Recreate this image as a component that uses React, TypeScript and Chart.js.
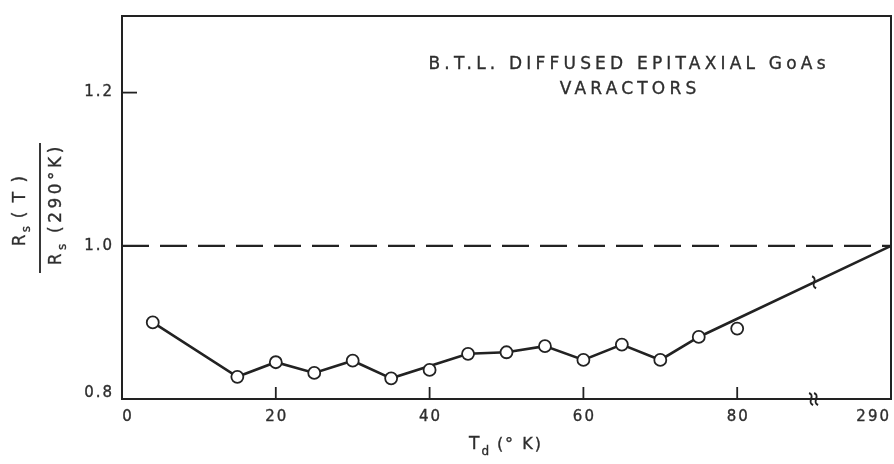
import React, { useEffect, useRef } from "react";
import { Chart, registerables } from "chart.js";

Chart.register(...registerables);

// Measured points (circles)
const temps = [4, 15, 20, 25, 30, 35, 40, 45, 50, 55, 60, 65, 70, 75, 80];
const ratios = [0.9, 0.829, 0.848, 0.834, 0.85, 0.827, 0.838, 0.859, 0.861, 0.869, 0.851, 0.871, 0.851, 0.881, 0.892];

// Drawn curve (skips the 40 and 80 points, ends at 290 K on the broken axis)
const curveTemps = [4, 15, 20, 25, 30, 35, 45, 50, 55, 60, 65, 70, 75, 100];
const curveRatios = [0.9, 0.829, 0.848, 0.834, 0.85, 0.827, 0.859, 0.861, 0.869, 0.851, 0.871, 0.851, 0.881, 1.0];

// Axis ticks
const xTickValues = [0, 20, 40, 60, 80, 100];
const xTickLabels = ["0", "20", "40", "60", "80", "290"];
const yTickValues = [0.8, 1.0, 1.2];
const yTickLabels = ["0.8", "1.0", "1.2"];
const xInnerTicks = [20, 40, 60, 80];
const yInnerTicks = [1.2];
const referenceLevel = 1.0;
const breakAt = 90;

const annotationLines = ["B.T.L. DIFFUSED EPITAXIAL GoAs", "VARACTORS"];

const INK = "#222222";
const TEXT = "#2e2e2e";
const FONT = "DejaVu Sans";

type Part = { t: string; size: number; dy: number };

function partsWidth(ctx: CanvasRenderingContext2D, parts: Part[], spacing: number) {
  let w = 0;
  for (const p of parts) {
    ctx.font = `${p.size}px "${FONT}"`;
    (ctx as any).letterSpacing = `${spacing}px`;
    w += ctx.measureText(p.t).width;
  }
  return w - spacing;
}

function heavyText(ctx: CanvasRenderingContext2D, t: string, x: number, y: number) {
  ctx.fillText(t, x, y);
  ctx.strokeText(t, x, y);
}

function drawParts(ctx: CanvasRenderingContext2D, parts: Part[], cx: number, cy: number, spacing: number) {
  const w = partsWidth(ctx, parts, spacing);
  let x = cx - w / 2;
  ctx.textAlign = "left";
  ctx.textBaseline = "middle";
  for (const p of parts) {
    ctx.font = `${p.size}px "${FONT}"`;
    (ctx as any).letterSpacing = `${spacing}px`;
    heavyText(ctx, p.t, x, cy + p.dy);
    x += ctx.measureText(p.t).width;
  }
}

const decorPlugin = {
  id: "decor",
  beforeDatasetsDraw(chart: any) {
    const ctx: CanvasRenderingContext2D = chart.ctx;
    const xs = chart.scales.x;
    const ys = chart.scales.y;
    const a = chart.chartArea;
    ctx.save();
    ctx.strokeStyle = INK;
    ctx.lineWidth = 2;
    ctx.setLineDash([]);
    ctx.strokeRect(a.left, a.top, a.right - a.left, a.bottom - a.top);

    // inward ticks
    ctx.lineWidth = 1.8;
    for (const v of xInnerTicks) {
      const px = xs.getPixelForValue(v);
      ctx.beginPath();
      ctx.moveTo(px, a.bottom);
      ctx.lineTo(px, a.bottom - 12);
      ctx.stroke();
    }
    for (const v of yInnerTicks) {
      const py = ys.getPixelForValue(v);
      ctx.beginPath();
      ctx.moveTo(a.left, py);
      ctx.lineTo(a.left + 15, py);
      ctx.stroke();
    }

    // dashed reference line
    const ry = ys.getPixelForValue(referenceLevel);
    ctx.lineWidth = 2.2;
    ctx.setLineDash([27, 11]);
    ctx.beginPath();
    ctx.moveTo(a.left, ry);
    ctx.lineTo(a.right, ry);
    ctx.stroke();
    ctx.setLineDash([]);

    // tick labels
    ctx.fillStyle = TEXT;
    ctx.strokeStyle = TEXT;
    ctx.lineWidth = 0.35;
    ctx.font = `15px "${FONT}"`;
    (ctx as any).letterSpacing = "2px";
    ctx.textBaseline = "middle";
    ctx.textAlign = "right";
    yTickValues.forEach((v, i) => {
      let py = ys.getPixelForValue(v);
      if (i === 0) py -= 6;
      heavyText(ctx, yTickLabels[i], a.left - 8, py);
    });
    xTickValues.forEach((v, i) => {
      const px = xs.getPixelForValue(v);
      const lbl = xTickLabels[i];
      if (i === xTickValues.length - 1) {
        ctx.textAlign = "right";
        heavyText(ctx, lbl, px, a.bottom + 18);
      } else {
        ctx.textAlign = "center";
        heavyText(ctx, lbl, px + (i === 0 ? 6 : 1), a.bottom + 18);
      }
    });

    // annotation
    ctx.textAlign = "left";
    ctx.font = `17px "${FONT}"`;
    (ctx as any).letterSpacing = "0px";
    const target = 397;
    const raw = ctx.measureText(annotationLines[0]).width;
    const sp = (target - raw) / (annotationLines[0].length - 1);
    drawParts(ctx, [{ t: annotationLines[0], size: 17, dy: 0 }], 627, 65, sp);
    drawParts(ctx, [{ t: annotationLines[1], size: 17, dy: 0 }], 628, 90, sp);

    // x title
    drawParts(
      ctx,
      [
        { t: "T", size: 17, dy: 0 },
        { t: "d ", size: 12, dy: 7 },
        { t: "(° K)", size: 16, dy: 0 },
      ],
      505,
      445,
      2
    );

    // y title (fraction, rotated)
    ctx.save();
    ctx.rotate(-Math.PI / 2);
    drawParts(
      ctx,
      [
        { t: "R", size: 17, dy: 0 },
        { t: "s ", size: 12, dy: 6 },
        { t: "( T )", size: 17, dy: 0 },
      ],
      -211,
      21,
      2
    );
    drawParts(
      ctx,
      [
        { t: "R", size: 17, dy: 0 },
        { t: "s ", size: 12, dy: 6 },
        { t: "(290°K)", size: 17, dy: 0 },
      ],
      -206,
      57,
      3.5
    );
    ctx.restore();
    ctx.strokeStyle = INK;
    ctx.lineWidth = 1.8;
    ctx.beginPath();
    ctx.moveTo(40, 143);
    ctx.lineTo(40, 273);
    ctx.stroke();

    ctx.restore();
  },
  afterDatasetsDraw(chart: any) {
    const ctx: CanvasRenderingContext2D = chart.ctx;
    const xs = chart.scales.x;
    const ys = chart.scales.y;
    const a = chart.chartArea;
    ctx.save();
    ctx.strokeStyle = INK;
    ctx.lineWidth = 2;
    const n = curveTemps.length;
    const x0 = curveTemps[n - 2], y0 = curveRatios[n - 2];
    const x1 = curveTemps[n - 1], y1 = curveRatios[n - 1];
    const yb = y0 + ((y1 - y0) * (breakAt - x0)) / (x1 - x0);
    const bx = xs.getPixelForValue(breakAt);
    const by = ys.getPixelForValue(yb);
    const squiggle = (cx: number, cy: number, h: number) => {
      ctx.beginPath();
      ctx.moveTo(cx - 2, cy - h);
      ctx.bezierCurveTo(cx + 5, cy - h / 2, cx - 5, cy + h / 2, cx + 2, cy + h);
      ctx.stroke();
    };
    squiggle(bx, by, 6);
    squiggle(bx - 3, a.bottom, 6);
    squiggle(bx + 2, a.bottom, 6);
    ctx.restore();
  },
};

export default function App() {
  const ref = useRef<HTMLCanvasElement | null>(null);
  useEffect(() => {
    document.body.style.margin = "0";
    const canvas = ref.current!;
    const chart = new Chart(canvas, {
      type: "scatter",
      data: {
        datasets: [
          {
            label: "measured",
            data: temps.map((t, i) => ({ x: t, y: ratios[i] })),
            pointRadius: 6,
            pointBackgroundColor: "#ffffff",
            pointBorderColor: INK,
            pointBorderWidth: 1.8,
            showLine: false,
            order: 0,
          },
          {
            label: "curve",
            data: curveTemps.map((t, i) => ({ x: t, y: curveRatios[i] })),
            showLine: true,
            borderColor: INK,
            borderWidth: 2.6,
            pointRadius: 0,
            fill: false,
            order: 1,
          },
        ],
      },
      options: {
        animation: false,
        responsive: false,
        layout: { autoPadding: false, padding: { left: 122, right: 3, top: 16, bottom: 65 } },
        plugins: { legend: { display: false }, tooltip: { enabled: false } },
        scales: {
          x: { type: "linear", min: 0, max: 100, display: false },
          y: { type: "linear", min: 0.8, max: 1.3, display: false },
        },
      },
      plugins: [decorPlugin],
    });
    return () => chart.destroy();
  }, []);
  return (
    <div style={{ width: 894, height: 464, background: "#fff" }}>
      <canvas ref={ref} width={894} height={464} />
    </div>
  );
}
